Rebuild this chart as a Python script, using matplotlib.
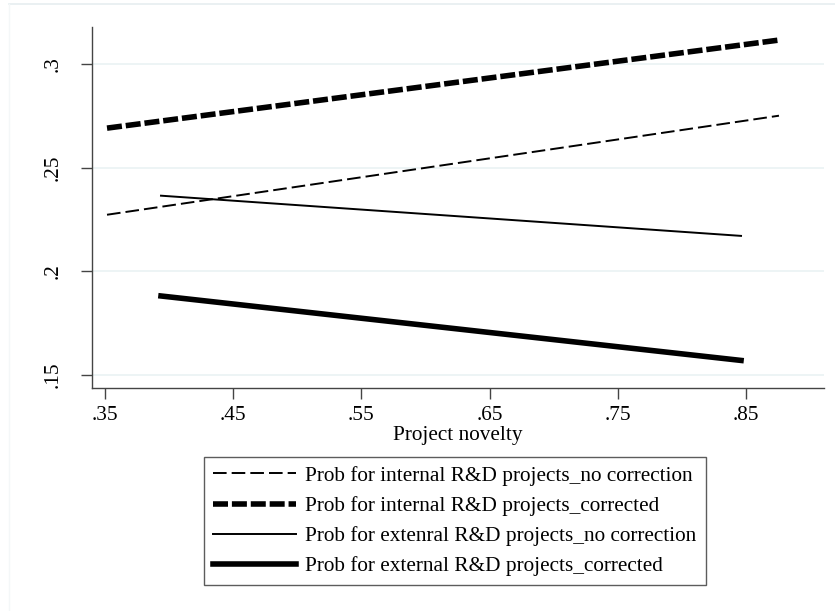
import matplotlib
matplotlib.use("Agg")
import matplotlib.pyplot as plt
from matplotlib.lines import Line2D

plt.rcParams['font.family'] = ['Liberation Serif', 'DejaVu Serif']

# novelty values at line ends
x_internal = [0.3516, 0.8757]
x_external = [0.3937, 0.8461]

# predicted probabilities
int_no_corr = [0.2273, 0.2751]
int_corr = [0.2691, 0.3116]
ext_no_corr = [0.2365, 0.2171]
ext_corr = [0.1881, 0.1570]

labels = [
    "Prob for internal R&D projects_no correction",
    "Prob for internal R&D projects_corrected",
    "Prob for extenral R&D projects_no correction",
    "Prob for external R&D projects_corrected",
]

xticks = [0.35, 0.45, 0.55, 0.65, 0.75, 0.85]
xticklabels = [".35", ".45", ".55", ".65", ".75", ".85"]
yticks = [0.15, 0.2, 0.25, 0.3]
yticklabels = [".15", ".2", ".25", ".3"]

fig = plt.figure(figsize=(8.35, 6.11), dpi=100)
ax = fig.add_axes([0.1102, 0.365, 0.8766, 0.5908])

# faint outer graph-region border
fig.add_artist(Line2D([9/835, 1.0], [1 - 4/611, 1 - 4/611], color='#e6eef0', lw=1.2))
fig.add_artist(Line2D([9/835, 9/835], [0.0, 1 - 4/611], color='#f4f7f8', lw=1.0))

ax.plot(x_internal, int_no_corr, color='black', lw=1.4, ls=(0, (7, 2.6)), label=labels[0])
ax.plot(x_internal, int_corr, color='black', lw=4.0, ls=(0, (2.7, 0.7)), label=labels[1])
ax.plot(x_external, ext_no_corr, color='black', lw=1.4, ls='-', label=labels[2])
ax.plot(x_external, ext_corr, color='black', lw=4.0, ls='-', label=labels[3])

ax.set_xlim(0.3399, 0.9108)
ax.set_ylim(0.1437, 0.3179)

ax.set_xticks(xticks)
ax.set_xticklabels(xticklabels)
ax.set_yticks(yticks)
ax.set_yticklabels(yticklabels, rotation=90, va='center')

ax.grid(axis='y', color='#eaf2f3', lw=1.2)
ax.set_axisbelow(True)
for s in ['top', 'right']:
    ax.spines[s].set_visible(False)
for s in ['left', 'bottom']:
    ax.spines[s].set_color('#444444')
    ax.spines[s].set_linewidth(1.0)
ax.tick_params(axis='both', length=8, width=1.0, color='#444444', labelsize=15.3, pad=5)
ax.tick_params(axis='y', pad=13)

ax.set_xlabel("Project novelty", fontsize=15.3, labelpad=1)

leg = fig.legend(loc='upper left', bbox_to_anchor=(204/835, 1 - 457/611),
                 fontsize=15.3, frameon=True, fancybox=False, handlelength=3.9,
                 handletextpad=0.45, borderpad=0.42, labelspacing=0.48,
                 borderaxespad=0)
leg.get_frame().set_edgecolor('#333333')
leg.get_frame().set_linewidth(1.0)

fig.savefig("out.png", dpi=100, facecolor='white')
